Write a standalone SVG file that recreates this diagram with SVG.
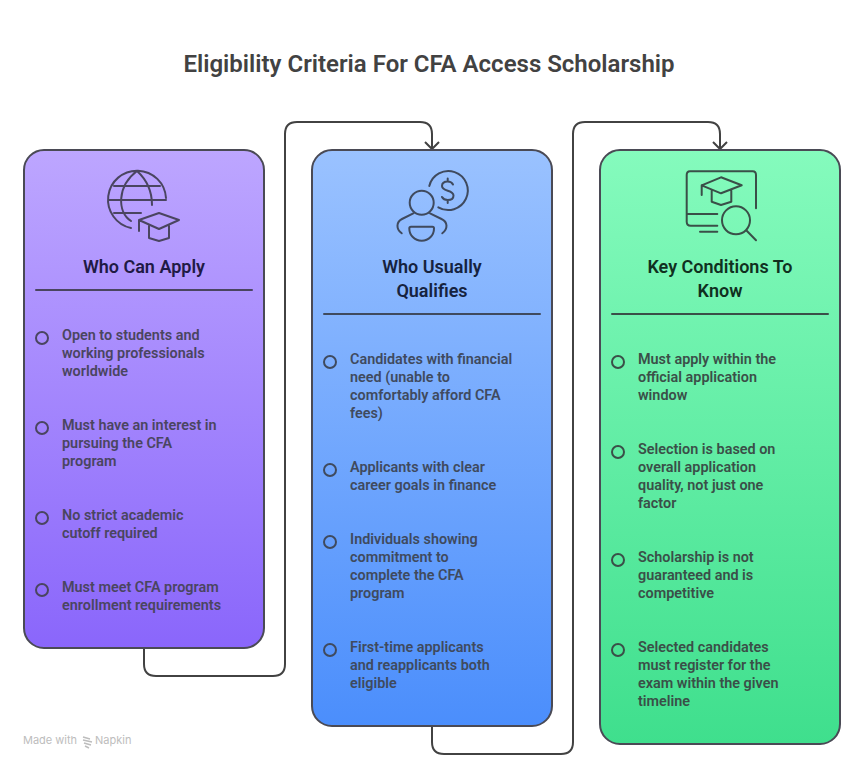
<svg xmlns="http://www.w3.org/2000/svg" width="864" height="768" viewBox="0 0 864 768">
<style>
text{font-family:Roboto,"Liberation Sans",sans-serif}
.title{font-size:24px;font-weight:600;fill:#424242}
.card{stroke:#4a4a55;stroke-width:2}
.ln{fill:none;stroke-width:2;stroke-linecap:round;stroke-linejoin:round}
.conn{fill:none;stroke:#424242;stroke-width:2}
.h{font-size:18px;font-weight:600;text-anchor:middle}
.b{font-size:14.4px;font-weight:600}
.p .ln,.p .bul{stroke:#4a4560}.p .h{fill:#1f1a45}.p .b{fill:#4a4560}
.u .ln,.u .bul{stroke:#3f4a5e}.u .h{fill:#16233f}.u .b{fill:#3f4a5e}
.g .ln,.g .bul{stroke:#3a4f48}.g .h{fill:#10301f}.g .b{fill:#3a4f48}
.bul{fill:none;stroke-width:2}
</style>
<defs>
<linearGradient id="gp" x1="0" y1="0" x2="0" y2="1"><stop offset="0" stop-color="#bda6ff"/><stop offset="1" stop-color="#8a66fb"/></linearGradient>
<linearGradient id="gu" x1="0" y1="0" x2="0" y2="1"><stop offset="0" stop-color="#9ac2ff"/><stop offset="1" stop-color="#4b8efc"/></linearGradient>
<linearGradient id="gg" x1="0" y1="0" x2="0" y2="1"><stop offset="0" stop-color="#85fbbd"/><stop offset="1" stop-color="#3fdf8d"/></linearGradient>
<g id="arr"><path class="ln" d="M0 -8V9M-7 2L0 9L7 2"/></g>
</defs>
<rect width="864" height="768" fill="#fff"/>
<text class="title" x="429" y="72" text-anchor="middle">Eligibility Criteria For CFA Access Scholarship</text>
<g id="connectors">
<path class="conn" d="M144 649V664Q144 676 156 676H273Q285 676 285 664V134Q285 122 297 122H420Q432 122 432 134V149"/>
<path class="conn" d="M425 142L432 149L439 142"/>
<path class="conn" d="M432 727V742Q432 754 444 754H561Q573 754 573 742V134Q573 122 585 122H708Q720 122 720 134V149"/>
<path class="conn" d="M713 142L720 149L727 142"/>
</g>
<g id="node-who-can-apply" class="p">
<rect class="card" x="24" y="150" width="240" height="498" rx="20" fill="url(#gp)"/>
<path class="ln" d="M131 228A29 29 0 1 1 166 198M137 171C117 186 117 212 131 221M137 171C147 180 152 192 152 205M114 186H160M109 200H166M114 213H141"/>
<path class="ln" d="M159 213L179 220L159 229L139 220ZM139 220V231M149 226V238L159 241L169 238V226"/>
<text class="h" x="144" y="273">Who Can Apply</text>
<path class="ln" d="M36 290H252"/>
<circle class="bul" cx="42" cy="338" r="6"/>
<text class="b" x="62" y="340">Open to students and</text><text class="b" x="62" y="358">working professionals</text><text class="b" x="62" y="376">worldwide</text>
<use href="#arr" x="144" y="397"/>
<circle class="bul" cx="42" cy="428" r="6"/>
<text class="b" x="62" y="430">Must have an interest in</text><text class="b" x="62" y="448">pursuing the CFA</text><text class="b" x="62" y="466">program</text>
<use href="#arr" x="144" y="487"/>
<circle class="bul" cx="42" cy="518" r="6"/>
<text class="b" x="62" y="520">No strict academic</text><text class="b" x="62" y="538">cutoff required</text>
<use href="#arr" x="144" y="559"/>
<circle class="bul" cx="42" cy="590" r="6"/>
<text class="b" x="62" y="592">Must meet CFA program</text><text class="b" x="62" y="610">enrollment requirements</text>
</g>
<g id="node-who-usually-qualifies" class="u">
<rect class="card" x="312" y="150" width="240" height="576" rx="20" fill="url(#gu)"/>
<circle class="ln" cx="421.7" cy="202.7" r="12"/>
<path class="ln" d="M429.3 186A19.5 19.5 0 1 1 438.3 207.3"/>
<path class="ln" d="M453 184.5Q451.5 181.5 447.7 181.5C443 181.5 442 184 442 186C442 192 453.5 189.5 453.5 195.5C453.5 198 451.5 200 447.7 200Q443.5 200 442 197M447.7 178.5V181.5M447.7 200V203"/>
<path class="ln" d="M401.7 233.3C396 229 396 222 402 219L413.3 213.3M430 213.3L441.5 219C448 222 448 229 442.3 233.3"/>
<path class="ln" d="M411 226.7H432.5Q434 226.7 434 228.5C434 235 429 240.7 421.7 240.7S409.3 235 409.3 228.5Q409.3 226.7 411 226.7Z"/>
<text class="h" x="432" y="273">Who Usually</text><text class="h" x="432" y="297">Qualifies</text>
<path class="ln" d="M324 314H540"/>
<circle class="bul" cx="330" cy="362" r="6"/>
<text class="b" x="350" y="364">Candidates with financial</text><text class="b" x="350" y="382">need (unable to</text><text class="b" x="350" y="400">comfortably afford CFA</text><text class="b" x="350" y="418">fees)</text>
<use href="#arr" x="432" y="439"/>
<circle class="bul" cx="330" cy="470" r="6"/>
<text class="b" x="350" y="472">Applicants with clear</text><text class="b" x="350" y="490">career goals in finance</text>
<use href="#arr" x="432" y="511"/>
<circle class="bul" cx="330" cy="542" r="6"/>
<text class="b" x="350" y="544">Individuals showing</text><text class="b" x="350" y="562">commitment to</text><text class="b" x="350" y="580">complete the CFA</text><text class="b" x="350" y="598">program</text>
<use href="#arr" x="432" y="619"/>
<circle class="bul" cx="330" cy="650" r="6"/>
<text class="b" x="350" y="652">First-time applicants</text><text class="b" x="350" y="670">and reapplicants both</text><text class="b" x="350" y="688">eligible</text>
</g>
<g id="node-key-conditions" class="g">
<rect class="card" x="600" y="150" width="240" height="594" rx="20" fill="url(#gg)"/>
<path class="ln" d="M756 208.3V175Q756 171.3 752.7 171.3H690Q686.7 171.3 686.7 175V221.7Q686.7 225.7 690.7 225.7H717.3M686.7 214H717.3M700 231.7H717.3"/>
<circle class="ln" cx="736" cy="220.3" r="14"/>
<path class="ln" d="M746.7 230.7L756 240.3"/>
<path class="ln" d="M721 177.3L741.7 185.3L721 193.3L701.7 185.3ZM701.7 185.3V195M711.7 190V201.7L721 205L731.3 201.7V190"/>
<text class="h" x="720" y="273">Key Conditions To</text><text class="h" x="720" y="297">Know</text>
<path class="ln" d="M612 314H828"/>
<circle class="bul" cx="618" cy="362" r="6"/>
<text class="b" x="638" y="364">Must apply within the</text><text class="b" x="638" y="382">official application</text><text class="b" x="638" y="400">window</text>
<use href="#arr" x="720" y="421"/>
<circle class="bul" cx="618" cy="452" r="6"/>
<text class="b" x="638" y="454">Selection is based on</text><text class="b" x="638" y="472">overall application</text><text class="b" x="638" y="490">quality, not just one</text><text class="b" x="638" y="508">factor</text>
<use href="#arr" x="720" y="529"/>
<circle class="bul" cx="618" cy="560" r="6"/>
<text class="b" x="638" y="562">Scholarship is not</text><text class="b" x="638" y="580">guaranteed and is</text><text class="b" x="638" y="598">competitive</text>
<use href="#arr" x="720" y="619"/>
<circle class="bul" cx="618" cy="650" r="6"/>
<text class="b" x="638" y="652">Selected candidates</text><text class="b" x="638" y="670">must register for the</text><text class="b" x="638" y="688">exam within the given</text><text class="b" x="638" y="706">timeline</text>
</g>
<g id="watermark">
<text x="23" y="744" style="font-family:Inter,'Noto Sans',sans-serif;font-size:11px;fill:#bdbdbd">Made with</text>
<path d="M83 737L90 739M83 740L92 742M84 743L91 745M85 746L89 748" fill="none" stroke="#bdbdbd" stroke-width="1.5"/>
<text x="95" y="744" style="font-family:Inter,'Noto Sans',sans-serif;font-size:11px;fill:#bdbdbd">Napkin</text>
</g>
</svg>
